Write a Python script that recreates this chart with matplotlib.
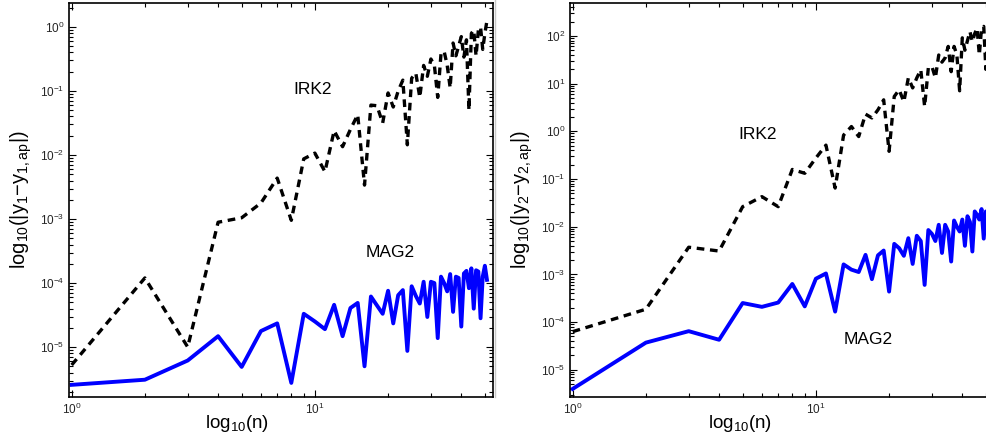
import numpy as np
import matplotlib
matplotlib.use("Agg")
from matplotlib import pyplot as plt
from matplotlib.lines import Line2D

plt.rcParams['font.family'] = ['Liberation Sans', 'DejaVu Sans']
plt.rcParams['mathtext.fontset'] = 'custom'
plt.rcParams['mathtext.rm'] = 'Liberation Sans'
plt.rcParams['mathtext.it'] = 'Liberation Sans:italic'
plt.rcParams['mathtext.default'] = 'regular'

# step count n
n = np.arange(1, 52)

# errors, stored as log10 values
irk2_y1 = [-5.28, -3.92, -5.0, -3.05, -2.98, -2.75, -2.36, -3.02, -2.06, -1.97,
           -2.26, -1.62, -1.87, -1.6, -1.37, -2.47, -1.22, -1.23, -1.5, -1.03,
           -1.25, -1.0, -0.83, -1.84, -0.8, -0.72, -1.1, -0.6, -0.77, -0.5,
           -0.6, -1.1, -0.42, -0.38, -0.6, -0.95, -0.25, -0.45, -0.3, -0.15,
           -0.47, -0.2, -1.3, -0.1, -0.05, -0.45, -0.05, 0.0, -0.35, -0.1, 0.1]
mag2_y1 = [-5.59, -5.51, -5.21, -4.83, -5.31, -4.75, -4.63, -5.56, -4.48, -4.6,
           -4.72, -4.34, -4.83, -4.39, -4.31, -5.3, -4.21, -4.35, -4.48, -4.12,
           -4.63, -4.19, -4.11, -5.06, -4.05, -4.2, -4.32, -3.98, -4.53, -3.98,
           -4.0, -4.86, -3.9, -4.0, -4.13, -3.86, -4.45, -3.9, -3.92, -4.68,
           -3.85, -3.81, -4.08, -3.77, -4.4, -3.8, -3.82, -4.55, -3.9, -3.73, -3.95]

irk2_y2 = [-4.2, -3.73, -2.43, -2.51, -1.58, -1.37, -1.58, -0.8, -0.88, -0.56,
           -0.29, -1.19, -0.08, 0.1, -0.11, 0.36, 0.28, 0.45, 0.66, -0.42,
           0.73, 0.87, 0.62, 1.12, 0.91, 1.12, 1.29, 0.52, 1.33, 1.36,
           1.12, 1.6, 1.45, 1.54, 1.78, 1.25, 1.78, 1.6, 0.85, 1.96,
           1.7, 1.9, 2.09, 1.88, 2.05, 2.16, 1.6, 2.17, 2.2, 1.3, 2.2]
mag2_y2 = [-5.4, -4.43, -4.19, -4.37, -3.6, -3.68, -3.59, -3.2, -3.67, -3.09,
           -2.98, -3.78, -2.79, -2.9, -2.95, -2.59, -3.1, -2.6, -2.5, -3.36,
           -2.36, -2.45, -2.61, -2.24, -2.78, -2.19, -2.3, -3.22, -2.07, -2.15,
           -2.3, -1.96, -2.55, -1.96, -2.1, -2.73, -1.87, -2.0, -2.1, -1.85,
           -2.4, -1.78, -1.9, -2.52, -1.68, -1.75, -1.85, -1.63, -2.25, -1.68, -1.7]

ylabels = ['log$_{10}$(|y$_1$\u2212y$_{1,ap}$|)', 'log$_{10}$(|y$_2$\u2212y$_{2,ap}$|)']
xlabel = 'log$_{10}$(n)'


def style_axes(ax, xlab_pos):
    ax.set_xscale('log')
    ax.set_yscale('log')
    ax.tick_params(which='both', direction='in', top=True, right=True,
                   labelsize=8.5, labelcolor='#262626', width=0.8)
    ax.tick_params(which='major', length=5)
    ax.tick_params(which='minor', length=3)
    for s in ax.spines.values():
        s.set_linewidth(1.2)
    ax.set_xlabel(xlabel, fontsize=13.5)
    ax.xaxis.set_label_coords(xlab_pos, -0.04)


fig = plt.figure(figsize=(9.86, 4.44), dpi=100)

ax1 = fig.add_axes([69 / 986, 47 / 444, 424 / 986, 394 / 444])
ax1.plot(n, 10 ** np.array(irk2_y1), color='black', lw=2.4, linestyle=(0, (2.3, 1.7)))
ax1.plot(n, 10 ** np.array(mag2_y1), color='#0000ff', lw=2.8)
style_axes(ax1, 0.396)
ax1.set_xlim(0.975, 54)
ax1.set_ylim(10 ** -5.78, 10 ** 0.375)
ax1.set_ylabel(ylabels[0], fontsize=14.5, labelpad=4)
ax1.text(9.75, 10 ** -0.98, 'IRK2', fontsize=12.5, ha='center', va='center')
ax1.text(20.4, 10 ** -3.53, 'MAG2', fontsize=12.5, ha='center', va='center')

ax2 = fig.add_axes([570 / 986, 47 / 444, 424 / 986, 394 / 444])
ax2.plot(n, 10 ** np.array(irk2_y2), color='black', lw=2.4, linestyle=(0, (2.3, 1.7)))
ax2.plot(n, 10 ** np.array(mag2_y2), color='#0000ff', lw=2.8)
style_axes(ax2, 0.40)
ax2.set_xlim(0.975, 54)
ax2.set_ylim(10 ** -5.57, 10 ** 2.69)
ax2.set_ylabel(ylabels[1], fontsize=14.5, labelpad=4)
ax2.text(5.77, 10 ** -0.075, 'IRK2', fontsize=12.5, ha='center', va='center')
ax2.text(16.4, 10 ** -4.37, 'MAG2', fontsize=12.5, ha='center', va='center')

# thin grey frame edge of the second picture
fig.add_artist(Line2D([495 / 986, 495 / 986], [47 / 444, 1.0], color='#c8c8c8', lw=1))

fig.savefig('out.png', dpi=100)
